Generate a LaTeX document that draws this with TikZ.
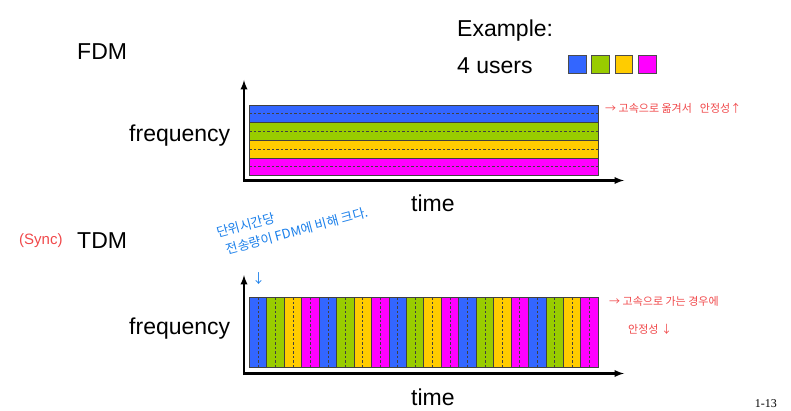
\documentclass[tikz,border=0pt]{standalone}
\usepackage{fontspec}
\setmainfont{Liberation Sans}
\newfontfamily\kofont{Noto Sans CJK KR}
\usetikzlibrary{arrows}
\definecolor{userblue}{HTML}{3366FF}
\definecolor{usergreen}{HTML}{99CC00}
\definecolor{useryellow}{HTML}{FFCC00}
\definecolor{usermagenta}{HTML}{FF00FF}
\definecolor{notered}{HTML}{F0484A}
\definecolor{noteblue}{HTML}{1A7FEA}
\tikzset{
  axis/.style={line width=2.2pt,-latex},
  band/.style={draw=black!75,line width=0.8pt},
  mid/.style={dashed,black!75,line width=0.6pt,dash pattern=on 2.5pt off 2pt},
  lbl/.style={anchor=base west,inner sep=0pt,font=\fontsize{23}{27}\selectfont},
  rednote/.style={anchor=base west,inner sep=0pt,notered,font=\kofont\fontsize{11}{13}\selectfont},
  bluenote/.style={anchor=base west,inner sep=0pt,noteblue,font=\kofont\fontsize{13}{19}\selectfont}
}
\begin{document}
\begin{tikzpicture}[x=1pt,y=-1pt]
\useasboundingbox (0,0) rectangle (791,411);

% legend
\node[lbl] (example) at (457,36.7) {Example:};
\node[lbl] (users) at (457,73.3) {4 users};
\foreach \c [count=\i from 0] in {userblue,usergreen,useryellow,usermagenta}
  \filldraw[fill=\c,draw=black!70,line width=0.8pt] (568.3+23.4*\i,55.7) rectangle +(17.6,17.6);

% FDM
\node[lbl] (fdm) at (77,60) {FDM};
\node[lbl] (ffreq) at (129,141.5) {frequency};
\node[lbl] (ftime) at (411,212) {time};
\foreach \c [count=\i from 0] in {userblue,usergreen,useryellow,usermagenta}{
  \filldraw[band,fill=\c] (249.3,105+17.65*\i) rectangle +(349,17.65);
  \draw[mid] (249.3,113.8+17.65*\i) -- +(349,0);}
\coordinate (fo) at (244,182);
\coordinate (fy) at (244,80);
\coordinate (fx) at (624,180.5);
\draw[axis] (fo) -- (fy);
\draw[axis] (243,180.5) -- (fx);
\node[rednote] (fnote) at (605,112.5) {→ 고속으로 옮겨서\enspace\ 안정성↑};

% TDM
\node[lbl,notered,font=\fontsize{15}{17}\selectfont] (sync) at (19,245) {(Sync)};
\node[lbl] (tdm) at (77,248) {TDM};
\node[lbl] (tfreq) at (129,334.5) {frequency};
\node[lbl] (ttime) at (411,405) {time};
\foreach \r in {0,...,4}
  \foreach \c [count=\j from 0] in {userblue,usergreen,useryellow,usermagenta}{
    \pgfmathsetmacro\xs{249.3+17.45*(4*\r+\j)}
    \filldraw[band,fill=\c] (\xs,297.3) rectangle +(17.45,70);
    \draw[mid] (\xs+8.7,297.3) -- +(0,70);}
\coordinate (to) at (244,375);
\coordinate (ty) at (244,275);
\coordinate (tx) at (624,373.5);
\draw[axis] (to) -- (ty);
\draw[axis] (243,373.5) -- (tx);
\node[rednote] (tnote) at (609,305) {→ 고속으로 가는 경우에};
\node[rednote] (tnote2) at (628,333) {안정성 ↓};
\node[bluenote,rotate=15,anchor=north west,align=left,inner sep=0pt] (bnote) at (215,227)
  {단위시간당\\\hspace{5pt}전송량이 FDM에 비해 크다.};
\node[bluenote] (barrow) at (252,283) {↓};

\node[anchor=base east,inner sep=0pt,font=\fontspec{Liberation Serif}\fontsize{12}{14}\selectfont] (page) at (777,407) {1-13};
\end{tikzpicture}
\end{document}
